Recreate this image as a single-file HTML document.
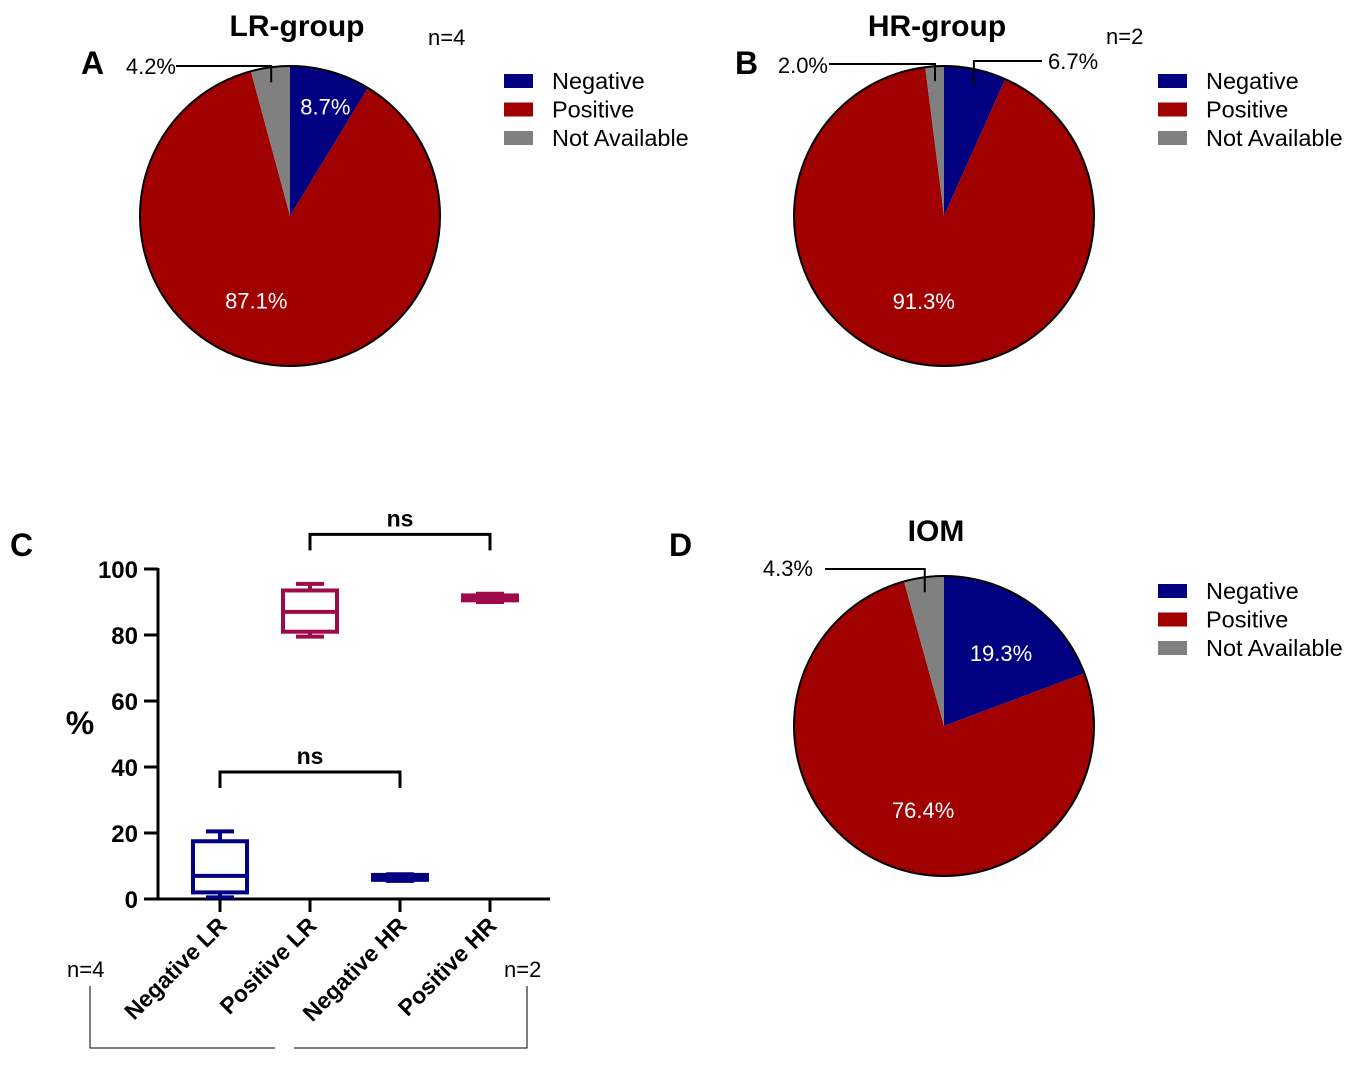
<!DOCTYPE html>
<html><head><meta charset="utf-8">
<style>
html,body{margin:0;padding:0;background:#fff;}
svg{display:block;font-family:"Liberation Sans","DejaVu Sans",sans-serif;}
</style></head>
<body>
<svg id="fig" width="1359" height="1066" viewBox="0 0 1359 1066" xmlns="http://www.w3.org/2000/svg">
<g id="static">
<text x="81" y="74" font-size="32" font-weight="bold">A</text>
<text x="735" y="74" font-size="32" font-weight="bold">B</text>
<text x="10" y="556" font-size="32" font-weight="bold">C</text>
<text x="669" y="556" font-size="32" font-weight="bold">D</text>
<text x="297" y="36" font-size="30" font-weight="bold" text-anchor="middle">LR-group</text>
<text x="937" y="36" font-size="30" font-weight="bold" text-anchor="middle">HR-group</text>
<text x="936" y="541" font-size="30" font-weight="bold" text-anchor="middle">IOM</text>
<text x="428" y="45" font-size="22">n=4</text>
<text x="1106" y="44" font-size="22">n=2</text>
</g>
<g id="pies"></g>
<g id="boxplot"></g>
</svg>
<script>
const NS="http://www.w3.org/2000/svg";
function mk(parent,tag,attrs,text){const e=document.createElementNS(NS,tag);for(const k in attrs)e.setAttribute(k,attrs[k]);if(text!==undefined)e.textContent=text;parent.appendChild(e);return e;}

// Pie data
const pieCategories=["Negative","Positive","Not Available"];
const pieColors=["#000080","#a00000","#808080"];
const lrValues=[8.7,87.1,4.2];
const hrValues=[6.7,91.3,2.0];
const iomValues=[19.3,76.4,4.3];

// Box plot data
const boxCategories=["Negative LR","Positive LR","Negative HR","Positive HR"];
const boxMin=[0.5,79.5,5.5,90];
const boxQ1=[2,81,5.8,90.5];
const boxMedian=[7,87,6.5,91];
const boxQ3=[17.5,93.5,7.3,92];
const boxMax=[20.5,95.5,7.5,92.5];
const boxColors=["#000080","#9e0b4b","#000080","#9e0b4b"];
const yTicks=[0,20,40,60,80,100];

const pies=document.getElementById('pies');
function drawPie(name,cx,cy,r,vals,legendX,legendY,labels){
  const g=mk(pies,'g',{});
  
  
  const tot=vals.reduce((a,b)=>a+b,0);
  let a0=0;
  vals.forEach((v,i)=>{
    const a1=a0+v/tot*2*Math.PI;
    const x0=cx+r*Math.sin(a0),y0=cy-r*Math.cos(a0),x1=cx+r*Math.sin(a1),y1=cy-r*Math.cos(a1);
    const large=(a1-a0)>Math.PI?1:0;
    const p=mk(g,'path',{d:`M${cx},${cy} L${x0},${y0} A${r},${r} 0 ${large} 1 ${x1},${y1} Z`,fill:pieColors[i]});
    
    
    const mid=(a0+a1)/2;
    const lb=labels[i];
    if(lb.inside){
      const t=mk(g,'text',{x:cx+lb.rr*r*Math.sin(mid)+(lb.dx||0),y:cy-lb.rr*r*Math.cos(mid)+8+(lb.dy||0),'font-size':22,fill:'#fff','text-anchor':'middle'},v.toFixed(1)+'%');
      
      
    } else {
      const ex=cx+(r-7)*Math.sin(mid),ey=cy-(r-7)*Math.cos(mid);
      const pl=mk(g,'polyline',{points:`${ex},${ey+8} ${ex},${lb.ly} ${lb.lx},${lb.ly}`,fill:'none',stroke:'#000','stroke-width':2});
      
      
      const t=mk(g,'text',{x:lb.tx,y:lb.ty,'font-size':22,'text-anchor':lb.anchor},v.toFixed(1)+'%');
      
      
    }
    a0=a1;
  });
  mk(g,'circle',{cx:cx,cy:cy,r:r,fill:'none',stroke:'#000','stroke-width':2});
  pieCategories.forEach((c,i)=>{
    const rc=mk(g,'rect',{x:legendX,y:legendY+i*28.5-7,width:29,height:14,fill:pieColors[i]});
    
    
    const t=mk(g,'text',{x:legendX+48,y:legendY+i*28.5+8,'font-size':23.5},c);
    
    
  });
}
drawPie('pie-lr',290,216,150,lrValues,504,81,[
 {inside:true,rr:0.75,dx:5,dy:-1},
 {inside:true,rr:0.65,dx:-20,dy:-12},
 {inside:false,lx:176,ly:66,tx:176,ty:74,anchor:'end'}]);
drawPie('pie-hr',944,216,150,hrValues,1158,81,[
 {inside:false,lx:1042,ly:61,tx:1048,ty:69,anchor:'start'},
 {inside:true,rr:0.6,dx:-7,dy:-4},
 {inside:false,lx:829,ly:64,tx:828,ty:73,anchor:'end'}]);
drawPie('pie-iom',944,726,150,iomValues,1158,591,[
 {inside:true,rr:0.55,dx:10,dy:-5},
 {inside:true,rr:0.6,dx:20,dy:4},
 {inside:false,lx:825,ly:569,tx:813,ty:576,anchor:'end'}]);

// Box plot
const bp=document.getElementById('boxplot');
const y0px=899,y100px=569,axX=158,axEnd=550;
const yS=v=>y0px+(y100px-y0px)*v/100;
const xS=i=>220+i*90;
const yAx=mk(bp,'line',{x1:axX,y1:yS(100)-1,x2:axX,y2:y0px+1,stroke:'#000','stroke-width':3});

const xAx=mk(bp,'line',{x1:axX-1,y1:y0px,x2:axEnd,y2:y0px,stroke:'#000','stroke-width':3});

yTicks.forEach(t=>{
  const l=mk(bp,'line',{x1:axX-14,y1:yS(t),x2:axX,y2:yS(t),stroke:'#000','stroke-width':3});
  
  const tx=mk(bp,'text',{x:axX-20,y:yS(t)+9,'font-size':24,'font-weight':'bold','text-anchor':'end'},String(t));
  
});
const yt=mk(bp,'text',{x:80,y:734,'font-size':32,'font-weight':'bold','text-anchor':'middle'},'%');

boxCategories.forEach((c,i)=>{
  const x=xS(i),col=boxColors[i],hw=27;
  const tk=mk(bp,'line',{x1:x,y1:y0px,x2:x,y2:y0px+13,stroke:'#000','stroke-width':3});
  
  const g=mk(bp,'g',{});
  
  
  mk(g,'line',{x1:x,y1:yS(boxMax[i]),x2:x,y2:yS(boxQ3[i]),stroke:col,'stroke-width':4});
  mk(g,'line',{x1:x,y1:yS(boxMin[i]),x2:x,y2:yS(boxQ1[i]),stroke:col,'stroke-width':4});
  mk(g,'line',{x1:x-14,y1:yS(boxMax[i]),x2:x+14,y2:yS(boxMax[i]),stroke:col,'stroke-width':4});
  mk(g,'line',{x1:x-14,y1:yS(boxMin[i]),x2:x+14,y2:yS(boxMin[i]),stroke:col,'stroke-width':4});
  mk(g,'rect',{x:x-hw,y:yS(boxQ3[i]),width:2*hw,height:Math.max(yS(boxQ1[i])-yS(boxQ3[i]),0.5),fill:'none',stroke:col,'stroke-width':4});
  mk(g,'line',{x1:x-hw,y1:yS(boxMedian[i]),x2:x+hw,y2:yS(boxMedian[i]),stroke:col,'stroke-width':4});
  const lx=x+8,ly=y0px+28;
  const t=mk(bp,'text',{x:lx,y:ly,'font-size':23,'font-weight':'bold','text-anchor':'end',transform:`rotate(-45 ${lx} ${ly})`},c);
  
});
function bracket(i,j,yv,name){
  const yy=yS(yv);
  const p=mk(bp,'polyline',{points:`${xS(i)},${yy+16} ${xS(i)},${yy} ${xS(j)},${yy} ${xS(j)},${yy+16}`,fill:'none',stroke:'#000','stroke-width':3});
  
  const t=mk(bp,'text',{x:(xS(i)+xS(j))/2,y:yy-8,'font-size':23,'font-weight':'bold','text-anchor':'middle'},'ns');
  
}
bracket(1,3,110.5,'ns-bracket-positive');
bracket(0,2,38.5,'ns-bracket-negative');
const n4=mk(bp,'text',{x:67,y:977,'font-size':22},'n=4');

const n2=mk(bp,'text',{x:504,y:977,'font-size':22},'n=2');

const gb1=mk(bp,'polyline',{points:'90,986 90,1048 275,1048',fill:'none',stroke:'#000','stroke-width':1});

const gb2=mk(bp,'polyline',{points:'294,1048 527,1048 527,986',fill:'none',stroke:'#000','stroke-width':1});

</script>
</body></html>
